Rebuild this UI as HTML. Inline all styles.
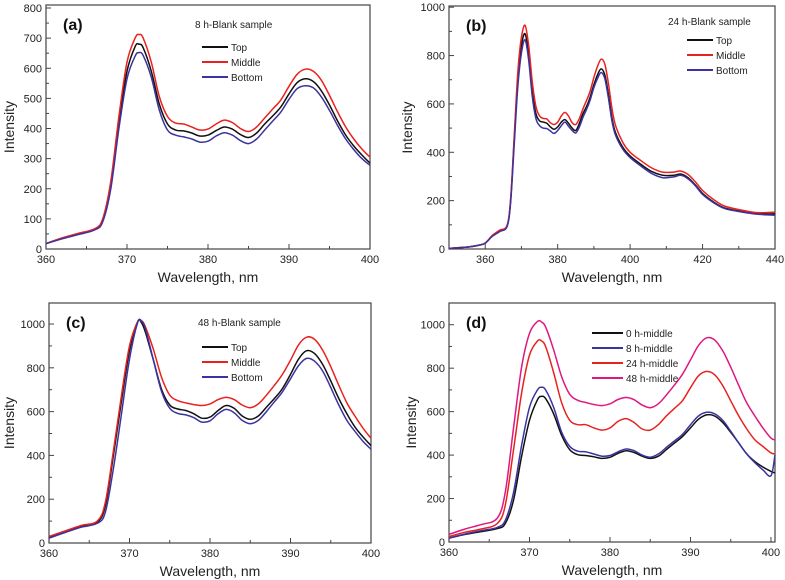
<!DOCTYPE html>
<html><head><meta charset="utf-8"><style>
body{margin:0;background:#fff;}
svg{display:block;font-family:"Liberation Sans",Arial,sans-serif;}
</style></head><body>
<svg id="fig" width="785" height="580" viewBox="0 0 785 580"></svg>
<script>
// ---- data ----
const xA=[360,362,364,366,367,368,369,370,371,371.5,372,373,374,375,376,377,378,379,380,381,382,383,384,385,386,387,388,389,390,391,392,393,394,395,396,397,398,399,400];
const aTop=[18,35,50,65,95,210,420,590,672,680,668,590,480,415,395,392,385,375,378,393,405,398,380,370,385,415,442,472,515,552,565,556,525,478,425,378,342,312,285];
const aMid=[18,37,52,67,100,225,440,620,700,712,700,620,505,440,418,415,405,395,398,415,428,420,400,390,405,435,465,495,540,580,597,590,560,510,455,405,365,332,305];
const aBot=[18,34,48,63,90,200,400,565,640,652,642,570,460,395,378,372,365,355,358,375,386,378,360,350,365,395,425,455,497,532,542,535,505,460,410,365,330,300,278];

const xB=[350,355,358,360,362,364,366,367,368,369,370,371,372,373,374,375,376,377,378,379,380,381,382,383,384,385,386,387,388,389,390,391,392,393,394,395,396,398,400,403,406,409,412,414,416,418,420,423,426,430,434,437,440];
const bTop=[3,8,15,25,55,75,95,200,450,700,840,890,800,650,560,530,525,520,505,495,505,525,535,520,500,490,520,560,590,630,680,720,745,720,640,540,480,420,385,350,320,305,305,310,295,265,230,195,170,157,148,145,145];
const bMid=[3,8,15,25,57,78,97,205,465,730,875,925,840,690,590,550,540,538,522,515,525,550,565,550,522,515,540,580,615,655,710,755,785,765,685,580,510,440,400,365,335,318,318,322,308,278,242,205,178,163,152,150,152];
const bBot=[3,8,15,24,53,72,92,190,430,670,810,865,780,630,540,510,500,498,488,478,490,510,525,508,490,480,505,545,578,618,668,705,730,705,625,528,470,412,378,343,312,295,298,305,290,262,226,192,168,155,146,142,140];

const xC=[360,362,364,366,367,368,369,370,371,371.5,372,373,374,375,376,377,378,379,380,381,382,383,384,385,386,387,388,389,390,391,392,393,394,395,396,397,398,399,400];
const cTop=[25,50,75,95,170,400,650,880,1010,1005,960,830,700,630,612,605,590,570,575,605,628,615,580,565,580,620,660,705,770,840,878,865,815,740,660,590,530,485,445];
const cMid=[30,55,80,100,185,420,675,900,1010,1015,985,880,755,675,650,640,632,628,635,655,665,655,630,618,635,675,720,770,835,905,940,930,880,805,720,640,580,525,478];
const cBot=[22,48,72,90,140,340,590,840,1005,1012,975,830,690,615,592,585,572,552,558,590,610,595,560,545,560,600,645,690,750,810,843,830,785,710,630,560,510,465,428];

const xD=[360,362,364,366,367,368,369,370,371,371.5,372,373,374,375,376,377,378,379,380,381,382,383,384,385,386,387,388,389,390,391,392,393,394,395,396,397,398,399,400,400.5];
const d0=[18,35,48,62,85,190,390,560,655,670,660,590,490,425,402,398,392,385,390,408,420,412,395,385,395,425,455,485,525,565,585,580,550,505,455,405,370,345,325,318];
const d8=[18,37,52,67,100,225,440,620,700,712,700,620,505,440,418,415,405,395,398,415,428,420,400,390,405,435,465,495,540,580,597,590,560,510,455,405,365,332,305,400];
const d24=[25,45,60,85,170,420,680,860,925,925,900,780,640,560,540,540,525,515,525,555,568,550,520,515,540,580,615,650,710,765,785,770,720,650,580,520,470,440,410,405];
const d48=[35,60,80,110,230,520,800,960,1015,1012,990,885,760,680,652,642,633,628,636,656,665,655,630,618,636,676,722,772,838,905,940,930,880,805,720,640,580,525,478,470];

const NS="http://www.w3.org/2000/svg";
const svg=document.getElementById('fig');
function mk(tag,attrs,parent){const e=document.createElementNS(NS,tag);for(const k in attrs)e.setAttribute(k,attrs[k]);(parent||svg).appendChild(e);return e;}
function smooth(pts){let d="M"+pts[0][0].toFixed(1)+","+pts[0][1].toFixed(1);
 for(let i=0;i<pts.length-1;i++){const p0=pts[Math.max(0,i-1)],p1=pts[i],p2=pts[i+1],p3=pts[Math.min(pts.length-1,i+2)];
  const c1=[p1[0]+(p2[0]-p0[0])/6,p1[1]+(p2[1]-p0[1])/6],c2=[p2[0]-(p3[0]-p1[0])/6,p2[1]-(p3[1]-p1[1])/6];
  d+=" C"+c1.map(v=>v.toFixed(1))+" "+c2.map(v=>v.toFixed(1))+" "+p2[0].toFixed(1)+","+p2[1].toFixed(1);}
 return d;}

function panel(o){
 const g=mk('g',{});
 
 
 const sx=v=>o.L+(v-o.x0)/(o.x1-o.x0)*(o.R-o.L);
 const sy=v=>o.B-(v-o.y0)/(o.yTop-o.y0)*(o.B-o.T);
 const fr=mk('rect',{x:o.L,y:o.T,width:o.R-o.L,height:o.B-o.T,fill:'none',stroke:'#444','stroke-width':1.2},g);
 
 const xs0=o.xStart!==undefined?o.xStart:o.x0;
 let first=xs0; while(first-o.xs/2>=o.x0-1e-6) first-=o.xs/2;
 for(let k=0;;k++){const v=first+k*o.xs/2; if(v>o.x1+1e-6)break; const X=sx(v);
  const major=Math.abs(((v-xs0)/o.xs)-Math.round((v-xs0)/o.xs))<1e-6;
  mk('line',{x1:X,x2:X,y1:o.B,y2:o.B-(major?5:3),stroke:'#444','stroke-width':1},g);
  if(major){const t=mk('text',{x:X,y:o.B+14,'font-size':11,'text-anchor':'middle',fill:'#222'},g);t.textContent=Math.round(v);
   }}
 for(let v=o.y0;v<=o.yTop+1e-6;v+=o.ys/2){const Y=sy(v);const major=Math.abs((v/o.ys)-Math.round(v/o.ys))<1e-6;
  mk('line',{x1:o.L,x2:o.L+(major?5:3),y1:Y,y2:Y,stroke:'#444','stroke-width':1},g);
  if(major&&v<=o.yMaxLabel){const t=mk('text',{x:o.L-4,y:Y+4,'font-size':11,'text-anchor':'end',fill:'#222'},g);t.textContent=v;
   }}
 const xt=mk('text',{x:(o.L+o.R)/2,y:o.B+33,'font-size':14,'text-anchor':'middle',fill:'#222'},g);xt.textContent='Wavelength, nm';
 
 const cy=(o.T+o.B)/2;
 const yt=mk('text',{x:o.ytx,y:cy,'font-size':14,'text-anchor':'middle',fill:'#222',transform:`rotate(-90 ${o.ytx} ${cy})`},g);yt.textContent='Intensity';
 
 const pl=mk('text',{x:o.L+17,y:o.T+25,'font-size':16,'font-weight':'bold',fill:'#111'},g);pl.textContent=o.label;
 
 if(o.title){const tt=mk('text',{x:o.tx,y:o.ty,'font-size':10,fill:'#222'},g);tt.textContent=o.title;
  }
 o.series.forEach((s,i)=>{
  const p=mk('path',{d:smooth(s.x.map((xv,j)=>[sx(xv),sy(s.y[j])])),fill:'none',stroke:s.c,'stroke-width':1.5},g);
  
  const ly=o.ly+i*o.ld;
  const ll=mk('line',{x1:o.lx,x2:o.lx+o.lw,y1:ly,y2:ly,stroke:s.c,'stroke-width':2},g);
  
  const lt=mk('text',{x:o.lx+o.lw+3,y:ly+4,'font-size':10,fill:'#222'},g);lt.textContent=s.n;
  
 });
}
const K='#111',R='#e8221f',Bl='#3a33a0',M='#e0177f';
panel({name:'panel-a',label:'(a)',L:46,R:370,T:5,B:249,x0:360,x1:400,xs:10,y0:0,yTop:810,ys:100,yMaxLabel:800,ytx:14,
 title:'8 h-Blank sample',tx:195,ty:28,lx:202,lw:26,ly:47,ld:15,
 series:[{n:'Top',x:xA,y:aTop,c:K},{n:'Middle',x:xA,y:aMid,c:R},{n:'Bottom',x:xA,y:aBot,c:Bl}]});
panel({name:'panel-b',label:'(b)',L:449,R:775,T:6,B:249,x0:350,x1:440,xStart:360,xs:20,y0:0,yTop:1005,ys:200,yMaxLabel:1000,ytx:412,
 title:'24 h-Blank sample',tx:668,ty:25,lx:687,lw:26,ly:40,ld:15,
 series:[{n:'Top',x:xB,y:bTop,c:K},{n:'Middle',x:xB,y:bMid,c:R},{n:'Bottom',x:xB,y:bBot,c:Bl}]});
panel({name:'panel-c',label:'(c)',L:49,R:371,T:303,B:543,x0:360,x1:400,xs:10,y0:0,yTop:1096,ys:200,yMaxLabel:1000,ytx:14,
 title:'48 h-Blank sample',tx:198,ty:326,lx:202,lw:26,ly:347,ld:15,
 series:[{n:'Top',x:xC,y:cTop,c:K},{n:'Middle',x:xC,y:cMid,c:R},{n:'Bottom',x:xC,y:cBot,c:Bl}]});
panel({name:'panel-d',label:'(d)',L:449,R:775,T:303,B:542,x0:360,x1:400.5,xs:10,y0:0,yTop:1100,ys:200,yMaxLabel:1000,ytx:416,
 title:null,lx:592,lw:31,ly:333,ld:15,
 series:[{n:'0 h-middle',x:xD,y:d0,c:K},{n:'8 h-middle',x:xD,y:d8,c:Bl},{n:'24 h-middle',x:xD,y:d24,c:R},{n:'48 h-middle',x:xD,y:d48,c:M}]});
</script>
</body></html>
